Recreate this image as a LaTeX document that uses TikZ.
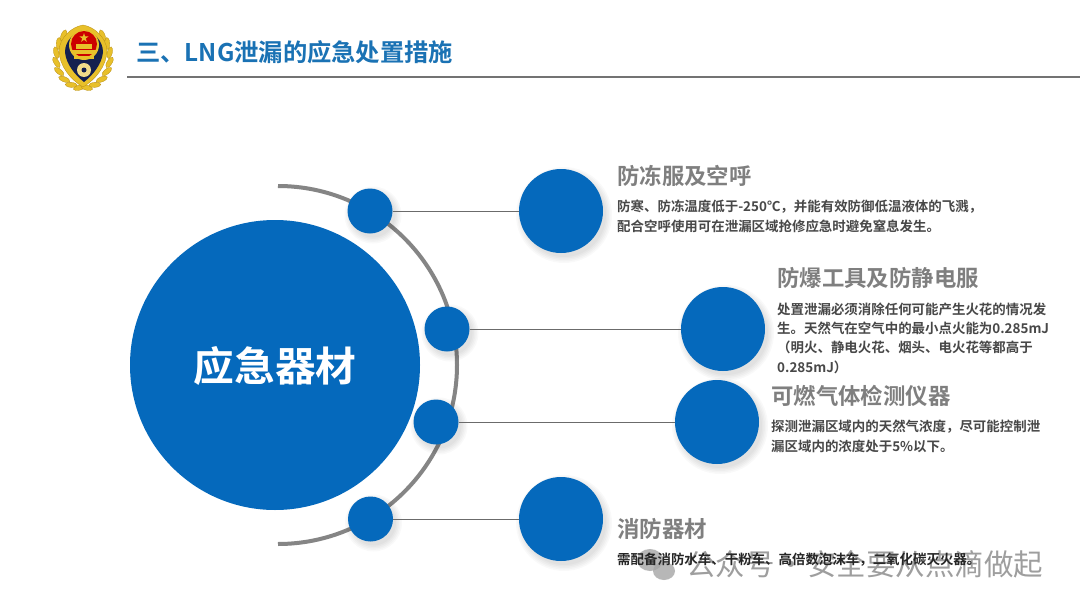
\documentclass[tikz,border=0pt]{standalone}
\usepackage{fontspec}
\setmainfont{Noto Sans CJK SC}
\newfontfamily\cjkb{Noto Sans CJK SC Bold}
\newfontfamily\cjkr{Noto Sans CJK SC}
\usetikzlibrary{shapes.geometric}
\definecolor{mainblue}{HTML}{0569BC}
\definecolor{titleblue}{HTML}{1A72B4}
\definecolor{headgray}{HTML}{7F7F7F}
\definecolor{bodygray}{HTML}{484848}
\definecolor{gold}{HTML}{E8C02A}
\definecolor{golddk}{HTML}{B98F14}
\definecolor{arcgray}{HTML}{858585}
\definecolor{shieldblue}{HTML}{14204F}
\tikzset{
  x=1pt,y=-1pt,
  bigdisc/.style={circle,fill=mainblue,draw=none,minimum size=290pt,inner sep=0pt},
  hubdisc/.style={circle,fill=mainblue,draw=none,minimum size=45pt,inner sep=0pt},
  enddisc/.style={circle,fill=mainblue,draw=none,minimum size=84pt,inner sep=0pt},
  link/.style={draw=black!58,line width=.8pt},
  headtext/.style={anchor=west,inner sep=0pt,text=headgray,font=\cjkb\fontsize{22.4}{26}\selectfont},
  bodytext/.style={anchor=north west,inner sep=0pt,align=left,text=bodygray,font=\cjkb\fontsize{13.45}{19.3}\selectfont},
  leaf/.style={fill=gold,draw=golddk,line width=.3pt,ellipse,minimum width=12pt,minimum height=5pt,inner sep=0pt}
}
\newcommand{\softshade}[3]{%
  \foreach \k in {6,4.5,3,1.5,0}{\fill[black,opacity=.024] (#1+3,#2+4) circle ({#3+\k});}%
}
\begin{document}
\begin{tikzpicture}
\useasboundingbox (0,0) rectangle (1080,608);
\fill[white] (0,0) rectangle (1080,608);
% emblem: wreath
\foreach \t in {8,26,44,62,80,98,116,134}{
  \node[leaf,rotate={180-\t+22}] at ({83-27*sin(\t)},{57+31*cos(\t)}) {};
  \node[leaf,rotate={\t-22}] at ({83+27*sin(\t)},{57+31*cos(\t)}) {};
}
\fill[gold,draw=golddk,line width=.3pt] (83,25) .. controls (95,27) and (106,38) .. (107,50) .. controls (107,66) and (95,80) .. (83,87) .. controls (71,80) and (59,66) .. (59,50) .. controls (60,38) and (71,27) .. (83,25) -- cycle;
\fill[shieldblue] (84,30) .. controls (94,32) and (103,41) .. (103,52) .. controls (102,64) and (93,75) .. (84,82) .. controls (75,75) and (66,64) .. (65,52) .. controls (65,41) and (74,32) .. (84,30) -- cycle;
\fill[gold] (84,45) circle (15);
\fill[red!80!black] (84,44) circle (13);
\fill[gold] (84,33) -- (85.1,36.4) -- (88.6,36.4) -- (85.8,38.5) -- (86.8,41.8) -- (84,39.8) -- (81.2,41.8) -- (82.2,38.5) -- (79.4,36.4) -- (82.9,36.4) -- cycle;
\fill[gold] (76,44) rectangle (92,49);
\fill[gold] (72,50) rectangle (96,54);
\fill[gold] (74,56) rectangle (94,59);
\fill[gold!55!white] (84,70) circle (7);
\fill[shieldblue] (84,70) circle (2.5);
% title
\node[anchor=west,inner sep=0pt,text=titleblue,font=\cjkb\fontsize{24.3}{28}\selectfont] (title) at (136,52) {三、LNG泄漏的应急处置措施};
\coordinate (ruleL) at (127,76.5);
\coordinate (ruleR) at (1080,76.5);
\draw[black!55,line width=2pt] (ruleL) -- (ruleR);
% arc
\coordinate (arcTop) at (278,186);
\draw[arcgray,line width=4pt] (arcTop) arc[start angle=-90,end angle=90,radius=179];
% shadows
\softshade{370}{211}{22.5}\softshade{447}{329}{22.5}\softshade{436}{422}{22.5}\softshade{370.5}{519}{22.5}
\softshade{561}{211}{42}\softshade{723}{329}{42}\softshade{717}{422}{42}\softshade{561}{519}{42}
% discs
\node[bigdisc] (core) at (275,365) {};
\node[text=white,inner sep=0pt,font=\cjkb\fontsize{40.7}{46}\selectfont] (coreLabel) at (275,366) {应急器材};
\node[enddisc] (e1) at (561,211) {};
\node[enddisc] (e2) at (723,329) {};
\node[enddisc] (e3) at (717,422) {};
\node[enddisc] (e4) at (561,519) {};
\node[hubdisc] (h1) at (370,211) {};
\node[hubdisc] (h2) at (447,329) {};
\node[hubdisc] (h3) at (436,422) {};
\node[hubdisc] (h4) at (370.5,519) {};
\draw[link] (h1) -- (e1);
\draw[link] (h2) -- (e2);
\draw[link] (h3) -- (e3);
\draw[link] (h4) -- (e4);
% text
\node[headtext] (t1) at (617,176) {防冻服及空呼};
\node[bodytext] (b1) at (617,200) {防寒、防冻温度低于-250℃，并能有效防御低温液体的飞溅，\\配合空呼使用可在泄漏区域抢修应急时避免窒息发生。};
\node[headtext] (t2) at (777,278) {防爆工具及防静电服};
\node[bodytext] (b2) at (777,302.5) {处置泄漏必须消除任何可能产生火花的情况发\\生。天然气在空气中的最小点火能为0.285mJ\\（明火、静电火花、烟头、电火花等都高于\\0.285mJ）};
\node[headtext] (t3) at (771,396) {可燃气体检测仪器};
\node[bodytext] (b3) at (771,420) {探测泄漏区域内的天然气浓度，尽可能控制泄\\漏区域内的浓度处于5\%以下。};
\node[headtext] (t4) at (617,529) {消防器材};
% watermark
\fill[black!35,opacity=.8] (650,560) ellipse (13 and 11);
\fill[black!35,opacity=.8] (664,571) ellipse (11 and 9);
\node[anchor=west,inner sep=0pt,text=black!38,font=\cjkr\fontsize{29.5}{31}\selectfont] (wm) at (686,564) {公众号\hspace{1.5pt}·\hspace{1.5pt}安全要从点滴做起};
\node[bodytext,text=black!85] (b4) at (617,553) {需配备消防水车、干粉车、高倍数泡沫车，二氧化碳灭火器。};
\end{tikzpicture}
\end{document}
